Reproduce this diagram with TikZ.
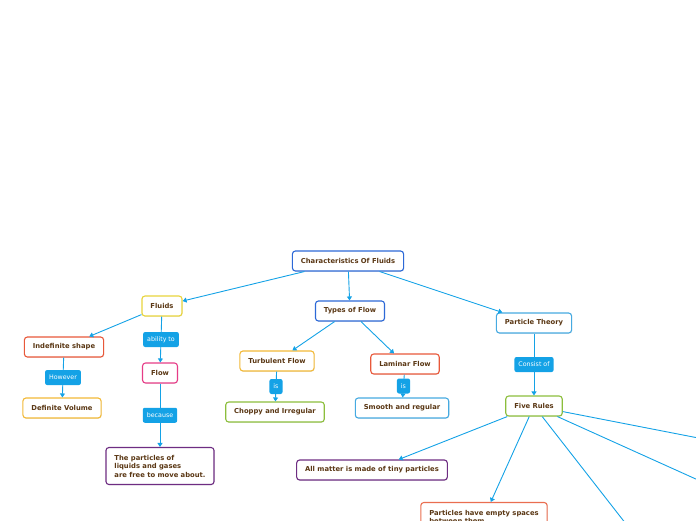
\documentclass[tikz,border=0pt]{standalone}
\usepackage{fontspec}
\setmainfont{DejaVu Sans}
\usepackage{xcolor}
\usetikzlibrary{positioning,arrows.meta,shadows}

\definecolor{txtbrown}{RGB}{90,55,20}
\definecolor{linkblue}{RGB}{20,162,230}
\definecolor{blueA}{RGB}{45,105,215}
\definecolor{skyA}{RGB}{70,170,225}
\definecolor{yellowA}{RGB}{232,212,60}
\definecolor{yellowB}{RGB}{242,185,55}
\definecolor{redA}{RGB}{232,88,58}
\definecolor{redB}{RGB}{234,110,80}
\definecolor{pinkA}{RGB}{230,60,135}
\definecolor{purpleA}{RGB}{110,45,130}
\definecolor{greenA}{RGB}{140,190,60}

\begin{document}
\begin{tikzpicture}[x=1pt, y=-1pt,
        topic/.style={rectangle, rounded corners=3pt, draw=#1, line width=1.1pt, fill=white,
            text=txtbrown, font=\fontsize{6.8}{8.5}\selectfont\bfseries,
            minimum height=20pt, inner xsep=8.5pt,
            drop shadow={opacity=0.15, shadow xshift=0.6pt, shadow yshift=-0.8pt}},
        conn/.style={draw=linkblue, line width=0.9pt, -{Triangle[width=5pt,length=4pt]}},
        lbl/.style={fill=linkblue, text=white, rounded corners=2pt,
            font=\fontsize{6.3}{7}\selectfont, minimum height=15pt, inner xsep=4pt, inner ysep=0pt}]
        \useasboundingbox (0,0) rectangle (696,520);
        \clip (0,0) rectangle (696,520);
        % main topic and branches
        \node[topic=blueA] (root) at (348,261) {Characteristics Of Fluids};
        \node[topic=yellowA] (fluids) at (162,306) {Fluids};
        \node[topic=blueA] (types) at (350,311) {Types of Flow};
        \node[topic=skyA] (theory) at (534,323) {Particle Theory};
        % fluids
        \node[topic=redA] (indef) at (64,347) {Indefinite shape};
        \node[topic=yellowB] (defvol) at (62,408) {Definite Volume};
        \node[topic=pinkA] (flow) at (160,373) {Flow};
        \node[topic=purpleA, align=left, minimum height=37pt] (free) at (160,466) {The particles of\\liquids and gases\\are free to move about.};
        % types of flow
        \node[topic=yellowB] (turb) at (277,361) {Turbulent Flow};
        \node[topic=redA] (lam) at (405,364) {Laminar Flow};
        \node[topic=greenA] (choppy) at (275,412) {Choppy and Irregular};
        \node[topic=skyA] (smooth) at (402,408) {Smooth and regular};
        % particle theory
        \node[topic=greenA] (five) at (534,406) {Five Rules};
        \node[topic=purpleA] (matter) at (372,470) {All matter is made of tiny particles};
        \node[topic=redB, align=left, minimum height=29pt] (empty) at (484,517) {Particles have empty spaces\\between them};
        \coordinate (ruleC) at (690,606);
        \coordinate (ruleD) at (800,526);
        \coordinate (ruleE) at (760,450);
        % connectors
        \path (root) edge [conn] (fluids);
        \path (root) edge [conn] (types);
        \path (root) edge [conn] (theory);
        \path (fluids) edge [conn] (indef);
        \path (fluids) edge [conn] node[lbl] {ability to} (flow);
        \path (indef) edge [conn] node[lbl] {However} (defvol);
        \path (flow) edge [conn] node[lbl] {because} (free);
        \path (types) edge [conn] (turb);
        \path (types) edge [conn] (lam);
        \path (turb) edge [conn] node[lbl] {is} (choppy);
        \path (lam) edge [conn] node[lbl] {is} (smooth);
        \path (theory) edge [conn] node[lbl] {Consist of} (five);
        \path (five) edge [conn] (matter);
        \path (five) edge [conn] (empty);
        \path (five) edge [conn] (ruleC);
        \path (five) edge [conn] (ruleD);
        \path (five) edge [conn] (ruleE);
    \end{tikzpicture}
\end{document}
